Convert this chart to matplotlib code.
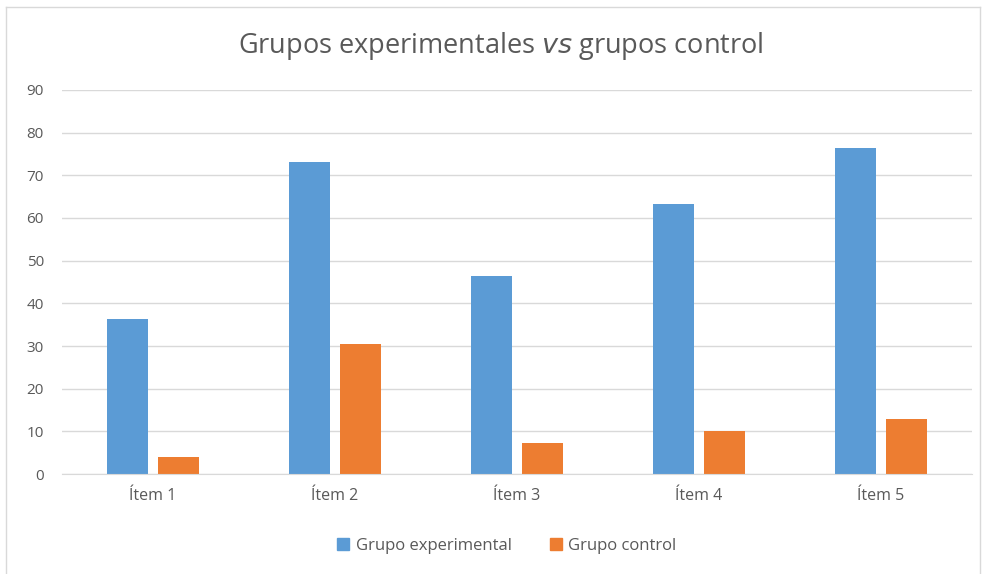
import matplotlib
matplotlib.use("Agg")
import matplotlib.pyplot as plt
import numpy as np
from matplotlib.lines import Line2D
from matplotlib.patches import Patch

categories = ["Ítem 1", "Ítem 2", "Ítem 3", "Ítem 4", "Ítem 5"]
experimental = [36.3, 73.2, 46.5, 63.3, 76.4]
control = [4.1, 30.5, 7.2, 10.0, 13.0]
series_names = ["Grupo experimental", "Grupo control"]
yticks = [0, 10, 20, 30, 40, 50, 60, 70, 80, 90]

W, H = 982, 574
fig = plt.figure(figsize=(W / 100, H / 100), dpi=100)
plt.rcParams['font.family'] = ['Open Sans', 'DejaVu Sans']
text_col = "#595959"
blue = "#5B9BD5"
orange = "#ED7D31"

ax = fig.add_axes([62 / W, 1 - 474 / H, (972 - 62) / W, (474 - 90) / H])
x = np.arange(len(categories))
bw = 0.226
off = 0.141
ax.bar(x - off, experimental, bw, color=blue, zorder=3)
ax.bar(x + off, control, bw, color=orange, zorder=3)
ax.set_xlim(-0.5, len(categories) - 0.5)
ax.set_ylim(0, 90)
ax.set_yticks(yticks)
ax.set_yticklabels([str(v) for v in yticks], color=text_col, fontsize=11)
ax.set_xticks(x)
ax.set_xticklabels(categories, color=text_col, fontsize=11.5)
ax.tick_params(axis='both', length=0)
ax.tick_params(axis='y', pad=13)
ax.tick_params(axis='x', pad=10)
ax.grid(axis='y', color="#D9D9D9", linewidth=1, zorder=0)
for s in ['top', 'right', 'left']:
    ax.spines[s].set_visible(False)
ax.spines['bottom'].set_color("#D9D9D9")
ax.spines['bottom'].set_zorder(4)

fig.text(501 / W, 1 - 46 / H, "Grupos experimentales $\\mathit{vs}$ grupos control",
         ha='center', va='center', fontsize=19.5, color=text_col)

handles = [Patch(color=blue), Patch(color=orange)]
fig.legend(handles, series_names, loc='center', bbox_to_anchor=(507 / W, 1 - 546 / H),
           ncol=2, frameon=False, fontsize=12, handlelength=0.7, handleheight=0.7,
           handletextpad=0.4, columnspacing=2.3, labelcolor=text_col)

# chart border
bx0, bx1, by0 = 5.5 / W, 979.5 / W, 1 - 7 / H
fig.add_artist(Line2D([bx0, bx0], [0, by0], color="#D9D9D9", lw=1, transform=fig.transFigure))
fig.add_artist(Line2D([bx1, bx1], [0, by0], color="#D9D9D9", lw=1, transform=fig.transFigure))
fig.add_artist(Line2D([bx0, bx1], [by0, by0], color="#D9D9D9", lw=1, transform=fig.transFigure))

fig.savefig("out.png", dpi=100)
